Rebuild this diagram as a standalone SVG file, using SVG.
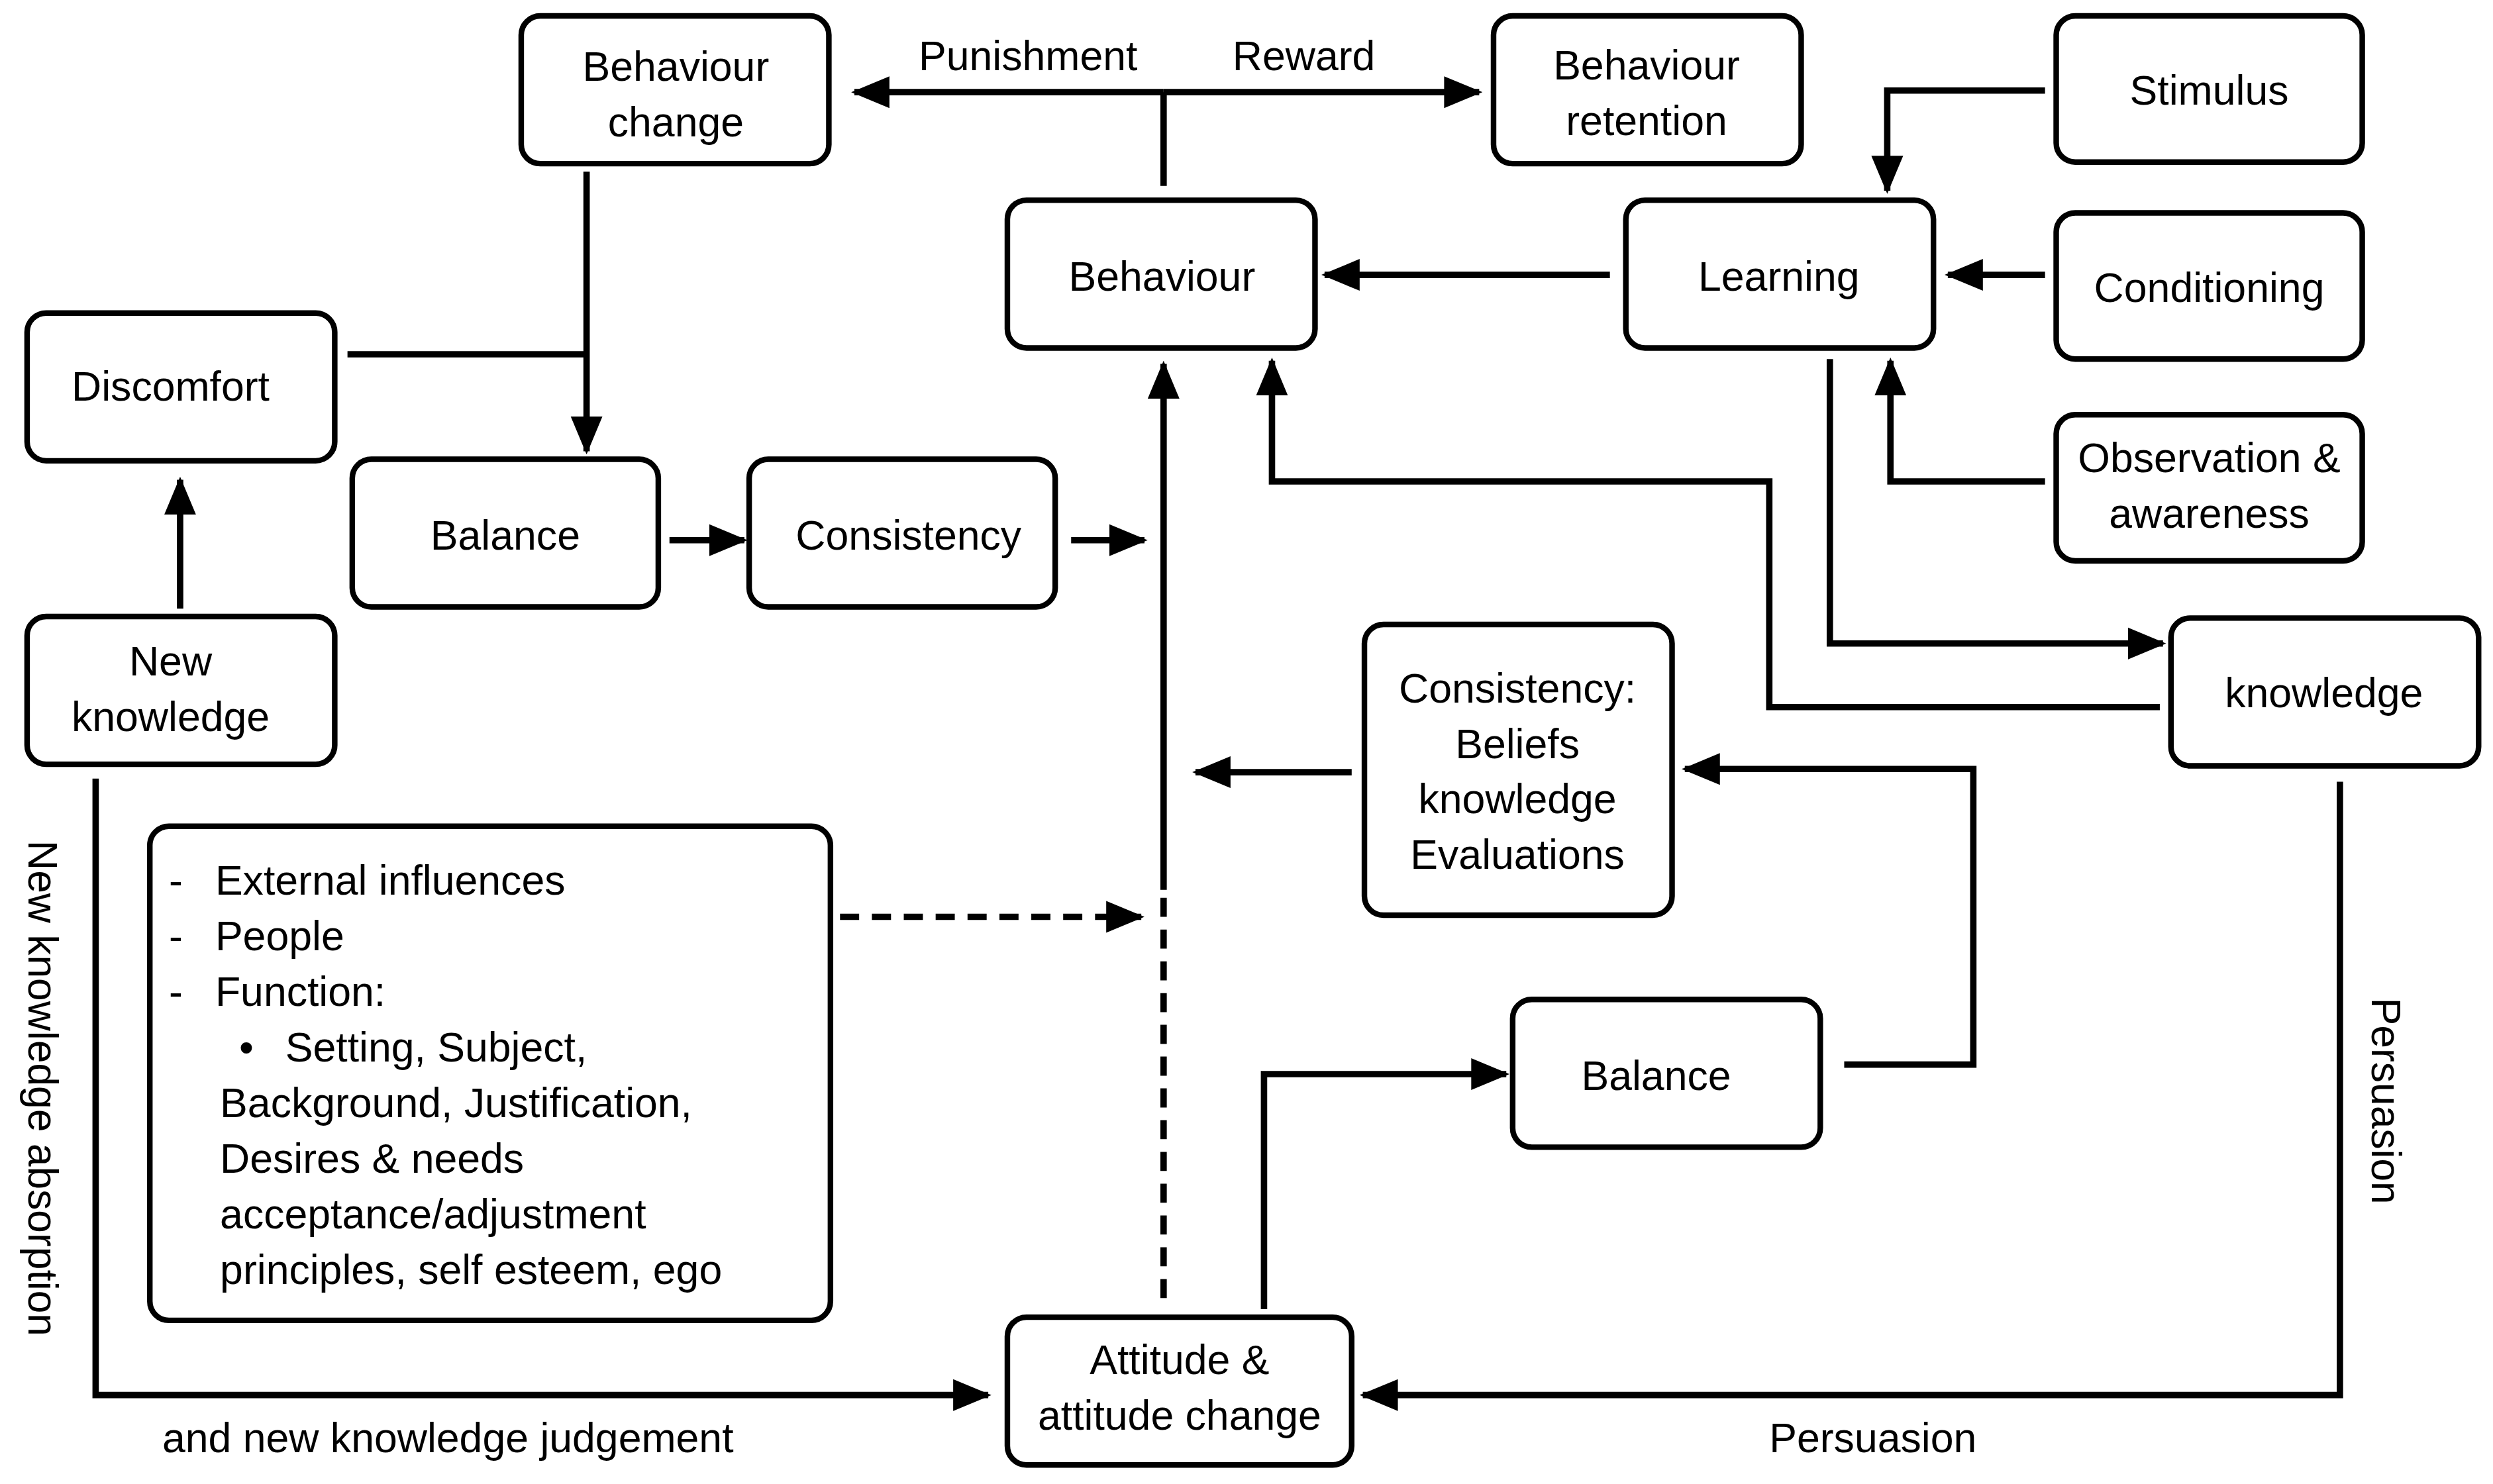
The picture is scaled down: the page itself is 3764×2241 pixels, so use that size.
<svg xmlns="http://www.w3.org/2000/svg" width="3764" height="2241" viewBox="0 0 3764 2241">
<style>
.n rect{fill:#fff;stroke:#000;stroke-width:3.5}
text{font-family:"Liberation Sans",Arial,sans-serif;font-size:26px;fill:#000}
.c{text-anchor:middle}
.l{fill:none;stroke:#000;stroke-width:4}
.d{stroke-dasharray:12 8}
</style>
<defs>
<marker id="a" markerUnits="userSpaceOnUse" markerWidth="24" markerHeight="24" viewBox="0 0 24 24" refX="22" refY="12" orient="auto"><path d="M0,2 L24,12 L0,22 Z" fill="#000"/></marker>
</defs>
<rect width="3764" height="2241" fill="#fff"/>
<g transform="scale(2.4066 2.3994)">
<g id="connectors">
<path class="l" d="M730,117 V58"/>
<path class="l" d="M730,58 H536" marker-end="url(#a)"/>
<path class="l" d="M730,58 H928" marker-end="url(#a)"/>
<path class="l" d="M368,108 V284" marker-end="url(#a)"/>
<path class="l" d="M218,223 H368"/>
<path class="l" d="M1283,57 H1184 V120" marker-end="url(#a)"/>
<path class="l" d="M1283,173 H1222" marker-end="url(#a)"/>
<path class="l" d="M1283,303 H1186 V227" marker-end="url(#a)"/>
<path class="l" d="M1010,173 H831" marker-end="url(#a)"/>
<path class="l" d="M1355,445 H1110 V303 H798 V227" marker-end="url(#a)"/>
<path class="l" d="M1148,226 V405 H1357" marker-end="url(#a)"/>
<path class="l" d="M420,340 H467" marker-end="url(#a)"/>
<path class="l" d="M672,340 H718" marker-end="url(#a)"/>
<path class="l" d="M113,383 V302" marker-end="url(#a)"/>
<path class="l" d="M730,560 V229" marker-end="url(#a)"/>
<path class="l d" d="M730,565 V822"/>
<path class="l d" d="M527,577 H716" marker-end="url(#a)"/>
<path class="l" d="M848,486 H750" marker-end="url(#a)"/>
<path class="l" d="M1157,670 H1238 V484 H1057" marker-end="url(#a)"/>
<path class="l" d="M793,824 V676 H945" marker-end="url(#a)"/>
<path class="l" d="M60,490 V878 H620" marker-end="url(#a)"/>
<path class="l" d="M1468,492 V878 H855" marker-end="url(#a)"/>
<text class="c" x="645" y="44">Punishment</text>
<text class="c" x="818" y="44">Reward</text>
<text class="c" x="281" y="914">and new knowledge judgement</text>
<text class="c" x="1175" y="914">Persuasion</text>
<text class="c" transform="translate(18,685) rotate(90)">New knowledge absorption</text>
<text class="c" transform="translate(1488,693) rotate(90)">Persuasion</text>
</g>
<g id="behaviour-change" class="n"><rect x="327" y="10" width="193" height="93" rx="12"/><text class="c" x="424" y="51">Behaviour</text><text class="c" x="424" y="86">change</text></g>
<g id="behaviour-retention" class="n"><rect x="937" y="10" width="193" height="93" rx="12"/><text class="c" x="1033" y="50">Behaviour</text><text class="c" x="1033" y="85">retention</text></g>
<g id="stimulus" class="n"><rect x="1290" y="10" width="192" height="92" rx="12"/><text class="c" x="1386" y="66">Stimulus</text></g>
<g id="behaviour" class="n"><rect x="632" y="126" width="193" height="93" rx="12"/><text class="c" x="729" y="183">Behaviour</text></g>
<g id="learning" class="n"><rect x="1020" y="126" width="193" height="93" rx="12"/><text class="c" x="1116" y="183">Learning</text></g>
<g id="conditioning" class="n"><rect x="1290" y="134" width="192" height="92" rx="12"/><text class="c" x="1386" y="190">Conditioning</text></g>
<g id="discomfort" class="n"><rect x="17" y="197" width="193" height="93" rx="12"/><text class="c" x="107" y="252">Discomfort</text></g>
<g id="balance-left" class="n"><rect x="221" y="289" width="192" height="93" rx="12"/><text class="c" x="317" y="346">Balance</text></g>
<g id="consistency" class="n"><rect x="470" y="289" width="192" height="93" rx="12"/><text class="c" x="570" y="346">Consistency</text></g>
<g id="observation" class="n"><rect x="1290" y="261" width="192" height="92" rx="12"/><text class="c" x="1386" y="297">Observation &amp;</text><text class="c" x="1386" y="332">awareness</text></g>
<g id="new-knowledge" class="n"><rect x="17" y="388" width="193" height="93" rx="12"/><text class="c" x="107" y="425">New</text><text class="c" x="107" y="460">knowledge</text></g>
<g id="knowledge" class="n"><rect x="1362" y="389" width="193" height="93" rx="12"/><text class="c" x="1458" y="445">knowledge</text></g>
<g id="consistency-beliefs" class="n"><rect x="856" y="393" width="193" height="183" rx="12"/><text class="c" x="952" y="442">Consistency:</text><text class="c" x="952" y="477">Beliefs</text><text class="c" x="952" y="512">knowledge</text><text class="c" x="952" y="547">Evaluations</text></g>
<g id="influences" class="n"><rect x="94" y="520" width="427" height="311" rx="12"/>
<text x="106" y="563">-</text><text x="135" y="563">External influences</text>
<text x="106" y="598">-</text><text x="135" y="598">People</text>
<text x="106" y="633">-</text><text x="135" y="633">Function:</text>
<text x="150" y="668">•</text><text x="179" y="668">Setting, Subject,</text>
<text x="138" y="703">Background, Justification,</text>
<text x="138" y="738">Desires &amp; needs</text>
<text x="138" y="773">acceptance/adjustment</text>
<text x="138" y="808">principles, self esteem, ego</text></g>
<g id="balance-right" class="n"><rect x="949" y="629" width="193" height="93" rx="12"/><text class="c" x="1039" y="686">Balance</text></g>
<g id="attitude" class="n"><rect x="632" y="829" width="216" height="93" rx="12"/><text class="c" x="740" y="865">Attitude &amp;</text><text class="c" x="740" y="900">attitude change</text></g>
</g>
</svg>
